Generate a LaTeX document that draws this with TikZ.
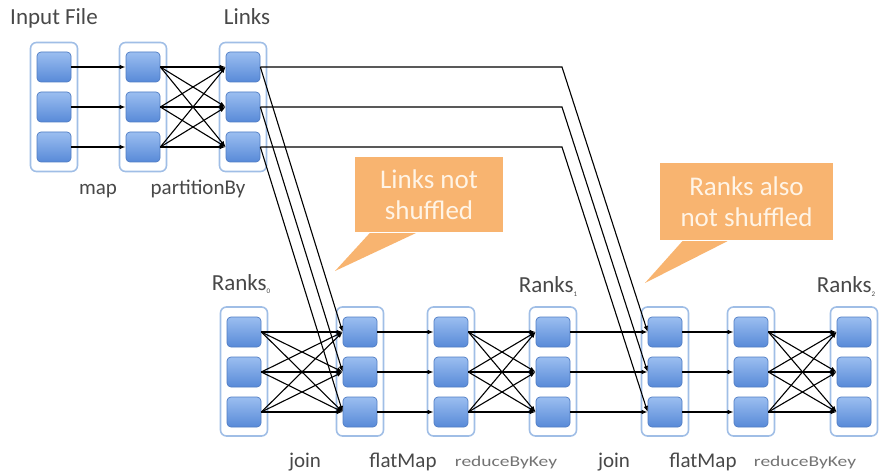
\documentclass[tikz,border=0pt]{standalone}
\usepackage{fontspec}
\setmainfont{Carlito}
\usetikzlibrary{arrows.meta,calc}

\definecolor{stageline}{RGB}{160,190,230}
\definecolor{parttop}{RGB}{155,190,240}
\definecolor{partbot}{RGB}{88,138,216}
\definecolor{partline}{RGB}{80,125,196}
\definecolor{notefill}{RGB}{248,180,112}
\definecolor{notetext}{RGB}{255,244,230}
\definecolor{labgray}{RGB}{72,72,72}
\definecolor{oplight}{RGB}{115,115,115}

\newcommand{\rsub}[1]{\raisebox{-4pt}{\fontsize{7}{7}\selectfont #1}}

\begin{document}
\begin{tikzpicture}[x=1pt,y=-1pt,
  stage/.style={draw=stageline, line width=1.6pt, fill=white, rounded corners=6pt,
                minimum width=47pt, minimum height=129pt, inner sep=0pt},
  part/.style={draw=partline, line width=0.7pt, rounded corners=4pt,
               top color=parttop, bottom color=partbot,
               minimum width=34pt, minimum height=30pt, inner sep=0pt},
  flow/.style={line width=1.1pt, draw=black, -{Latex[length=6pt,width=4.5pt]}},
  lab/.style={text=labgray, font=\fontsize{23}{25}\selectfont, inner sep=0pt, anchor=base},
  oplab/.style={text=labgray, font=\fontsize{21}{24}\selectfont, inner sep=0pt, anchor=base},
  smallop/.style={text=oplight, font=\fontsize{15}{16}\selectfont, inner sep=0pt, anchor=base},
  note/.style={fill=notefill, text=notetext, align=center, inner sep=0pt,
               font=\fontsize{27}{31}\selectfont},
]
\useasboundingbox (0,0) rectangle (889,473);

% ---- upper pipeline: input, map, partitionBy ----
\foreach \n/\x in {a/54,b/143,c/243}{
  \node[stage] (\n) at (\x,107) {};
  \foreach \r/\y in {1/67,2/107,3/147}
    \node[part] (\n-\r) at (\x,\y) {};
}

% ---- lower pipeline: two iterations ----
\foreach \n/\x in {r0/244,f1/360,g1/451,r1/553,f2/665,g2/751,r2/854}{
  \node[stage] (\n) at (\x,371.5) {};
  \foreach \r/\y in {1/332,2/372,3/412}
    \node[part] (\n-\r) at (\x,\y) {};
}

% bend column for the links carried to the second join
\coordinate (bend) at (562,0);

% ---- connectors ----
\foreach \i in {1,2,3}{
  \draw[flow] (a-\i.east) -- (b-\i.west);
  \draw[flow] (f1-\i.east) -- (g1-\i.west);
  \draw[flow] (r1-\i.east) -- (f2-\i.west);
  \draw[flow] (f2-\i.east) -- (g2-\i.west);
  % links reused without shuffling
  \draw[flow] (c-\i.east) -- (f1-\i.west);
  \draw[flow] (c-\i.east) -- (c-\i.east -| bend) -- (f2-\i.west);
  \foreach \j in {1,2,3}{
    \draw[flow] (b-\i.east) -- (c-\j.west);
    \draw[flow] (r0-\i.east) -- (f1-\j.west);
    \draw[flow] (g1-\i.east) -- (r1-\j.west);
    \draw[flow] (g2-\i.east) -- (r2-\j.west);
  }
}

% ---- titles ----
\node[lab] (tin) at (54,25) {Input File};
\node[lab] (tlinks) at (247,25) {Links};
\node[lab] (tr0) at (241,290) {Ranks\rsub{0}};
\node[lab] (tr1) at (548,292) {Ranks\rsub{1}};
\node[lab] (tr2) at (846,292) {Ranks\rsub{2}};

% ---- operation names ----
\node[oplab] (omap) at (98,195) {map};
\node[oplab] (opart) at (198,195) {partitionBy};
\node[oplab] (ojoin1) at (305,467) {join};
\node[oplab] (oflat1) at (403,467) {flatMap};
\node[smallop] (ored1) at (506,466) {\scalebox{1.3}[1]{reduceByKey}};
\node[oplab] (ojoin2) at (614,467) {join};
\node[oplab] (oflat2) at (703,467) {flatMap};
\node[smallop] (ored2) at (805,466) {\scalebox{1.3}[1]{reduceByKey}};

% ---- callouts ----
\node[note, minimum width=148pt, minimum height=75pt] (note1) at (429,194.5) {Links not\\shuffled};
\coordinate (tip1) at (335,271);
\fill[notefill] ($(note1.south west)!0.10!(note1.south east)+(0,-1pt)$) -- (tip1)
  -- ($(note1.south west)!0.41!(note1.south east)+(0,-1pt)$) -- cycle;

\node[note, minimum width=173pt, minimum height=77pt] (note2) at (746.5,201.5) {Ranks also\\not shuffled};
\coordinate (tip2) at (645,283);
\fill[notefill] ($(note2.south west)!0.13!(note2.south east)+(0,-1pt)$) -- (tip2)
  -- ($(note2.south west)!0.39!(note2.south east)+(0,-1pt)$) -- cycle;
\end{tikzpicture}
\end{document}
